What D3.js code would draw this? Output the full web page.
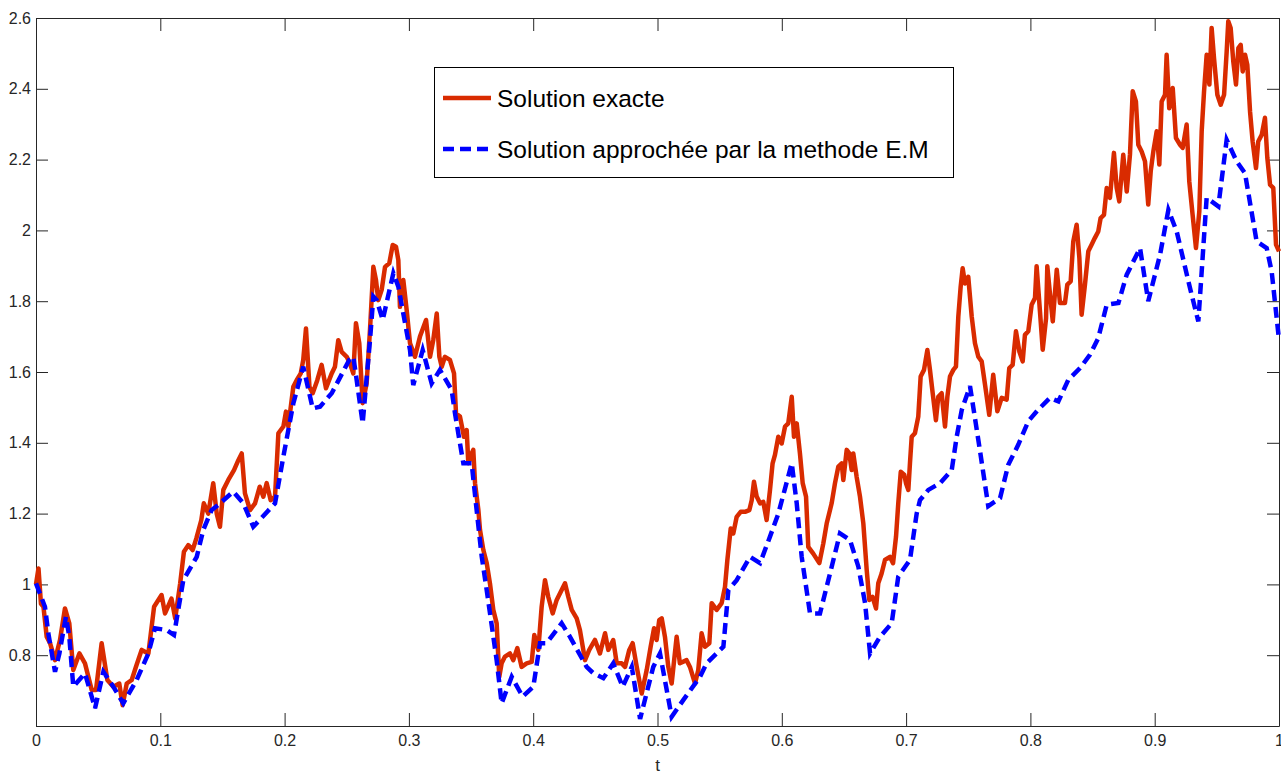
<!DOCTYPE html>
<html>
<head>
<meta charset="utf-8">
<script src="https://cdn.jsdelivr.net/npm/d3@7"></script>
<style>
  body { margin: 0; background: #fff; }
  svg { display: block; }
  .tick text { font-family: "Liberation Sans", Arial, sans-serif; font-size: 16px; fill: #262626; }
  .legend text { font-family: "Liberation Sans", Arial, sans-serif; font-size: 24.5px; fill: #000; }
</style>
</head>
<body>
<div id="chart"></div>
<script>
// exact solution (t, X)
var exactSolution = [
  [0, 1.0], [0.002, 1.045], [0.004, 0.945], [0.006, 0.937], [0.0086, 0.852], [0.0113, 0.834],
  [0.0153, 0.786], [0.0193, 0.843], [0.0233, 0.932], [0.0268, 0.89], [0.030, 0.758], [0.0349, 0.805],
  [0.0394, 0.777], [0.0448, 0.702], [0.0483, 0.702], [0.0528, 0.834], [0.0574, 0.73], [0.0622, 0.711],
  [0.067, 0.72], [0.0697, 0.659], [0.073, 0.72], [0.077, 0.73], [0.0805, 0.768], [0.085, 0.815],
  [0.0904, 0.805], [0.095, 0.937], [0.101, 0.97], [0.1038, 0.918], [0.109, 0.96], [0.112, 0.904],
  [0.116, 1.003], [0.119, 1.092], [0.1225, 1.111], [0.126, 1.097], [0.129, 1.13], [0.133, 1.182],
  [0.135, 1.229], [0.1386, 1.20], [0.1426, 1.286], [0.1454, 1.20], [0.148, 1.163], [0.1507, 1.267],
  [0.1547, 1.295], [0.1593, 1.323], [0.1628, 1.351], [0.1655, 1.37], [0.1681, 1.257], [0.1722, 1.21],
  [0.1762, 1.229], [0.180, 1.276], [0.1829, 1.248], [0.1856, 1.286], [0.1888, 1.238], [0.1923, 1.248],
  [0.195, 1.427], [0.199, 1.446], [0.2011, 1.488], [0.203, 1.446], [0.207, 1.558], [0.2097, 1.577],
  [0.213, 1.596], [0.215, 1.634], [0.2172, 1.723], [0.22, 1.558], [0.2226, 1.54], [0.2263, 1.577],
  [0.2298, 1.62], [0.2333, 1.554], [0.2379, 1.596], [0.2405, 1.615], [0.2432, 1.69], [0.2459, 1.657],
  [0.25, 1.643], [0.2526, 1.624], [0.2553, 1.596], [0.2574, 1.738], [0.2601, 1.681], [0.2628, 1.512],
  [0.266, 1.568], [0.2687, 1.719], [0.2714, 1.897], [0.2735, 1.86], [0.2754, 1.803], [0.2781, 1.832],
  [0.2808, 1.897], [0.2842, 1.907], [0.287, 1.959], [0.2896, 1.954], [0.2915, 1.916], [0.2928, 1.784],
  [0.2955, 1.86], [0.2982, 1.775], [0.3009, 1.681], [0.3049, 1.643], [0.3089, 1.70], [0.3138, 1.747],
  [0.317, 1.643], [0.3196, 1.69], [0.3224, 1.765], [0.3245, 1.643], [0.3264, 1.615], [0.329, 1.643],
  [0.333, 1.634], [0.3363, 1.596], [0.3379, 1.483], [0.3411, 1.474], [0.3443, 1.417], [0.3465, 1.436],
  [0.3478, 1.342], [0.3505, 1.37], [0.3518, 1.38], [0.3532, 1.286], [0.3559, 1.21], [0.3572, 1.154],
  [0.3599, 1.097], [0.3626, 1.06], [0.3652, 1.003], [0.3679, 0.928], [0.3706, 0.89], [0.3727, 0.739],
  [0.3746, 0.777], [0.3773, 0.796], [0.3813, 0.805], [0.384, 0.786], [0.3872, 0.82], [0.3907, 0.767],
  [0.3947, 0.777], [0.3988, 0.781], [0.4009, 0.857], [0.4041, 0.815], [0.4068, 0.937], [0.4095, 1.012],
  [0.4121, 0.965], [0.4157, 0.918], [0.4189, 0.956], [0.4229, 0.984], [0.4256, 1.003], [0.4282, 0.965],
  [0.431, 0.928], [0.435, 0.904], [0.4376, 0.871], [0.4417, 0.786], [0.4451, 0.815], [0.4497, 0.843],
  [0.4537, 0.805], [0.4578, 0.862], [0.4604, 0.815], [0.4644, 0.843], [0.4672, 0.777], [0.4712, 0.777],
  [0.4739, 0.767], [0.4773, 0.815], [0.48, 0.834], [0.4833, 0.767], [0.4873, 0.692], [0.4913, 0.758],
  [0.4945, 0.824], [0.4972, 0.876], [0.4993, 0.843], [0.5014, 0.899], [0.5034, 0.904], [0.506, 0.852],
  [0.5087, 0.767], [0.5114, 0.72], [0.5154, 0.852], [0.518, 0.777], [0.5234, 0.786], [0.5261, 0.767],
  [0.5302, 0.72], [0.5328, 0.758], [0.5355, 0.862], [0.5382, 0.824], [0.5417, 0.834], [0.5436, 0.947],
  [0.5476, 0.928], [0.5516, 0.947], [0.5543, 0.993], [0.5562, 1.069], [0.5589, 1.158], [0.561, 1.144],
  [0.5637, 1.191], [0.5669, 1.205], [0.5704, 1.205], [0.5739, 1.21], [0.5758, 1.238], [0.5776, 1.29],
  [0.5798, 1.248], [0.5825, 1.229], [0.5851, 1.233], [0.5878, 1.182], [0.5905, 1.267], [0.5926, 1.342],
  [0.5945, 1.366], [0.5972, 1.417], [0.5999, 1.398], [0.6026, 1.446], [0.6052, 1.455], [0.608, 1.53],
  [0.6098, 1.417], [0.612, 1.455], [0.6146, 1.37], [0.6168, 1.286], [0.6195, 1.248], [0.6213, 1.106],
  [0.6253, 1.087], [0.6302, 1.06], [0.6334, 1.116], [0.6361, 1.172], [0.6401, 1.229], [0.6428, 1.286],
  [0.6455, 1.333], [0.6482, 1.342], [0.6495, 1.295], [0.6522, 1.38], [0.6543, 1.37], [0.6562, 1.323],
  [0.6575, 1.37], [0.6602, 1.304], [0.6629, 1.248], [0.6656, 1.172], [0.6683, 1.041], [0.6704, 0.956],
  [0.673, 0.965], [0.6758, 0.932], [0.6776, 1.003], [0.6803, 1.031], [0.683, 1.069], [0.687, 1.078],
  [0.6895, 1.06], [0.6919, 1.135], [0.6937, 1.229], [0.6957, 1.318], [0.6985, 1.31], [0.6999, 1.286],
  [0.7018, 1.267], [0.7031, 1.342], [0.7045, 1.417], [0.7071, 1.427], [0.7098, 1.474], [0.7117, 1.587],
  [0.7144, 1.606], [0.7171, 1.662], [0.7192, 1.606], [0.7214, 1.54], [0.724, 1.464], [0.7259, 1.53],
  [0.7286, 1.54], [0.7313, 1.446], [0.7332, 1.53], [0.7353, 1.587], [0.738, 1.606], [0.7401, 1.615],
  [0.742, 1.756], [0.7439, 1.841], [0.7455, 1.893], [0.7474, 1.85], [0.75, 1.869], [0.7528, 1.756],
  [0.7554, 1.681], [0.7581, 1.643], [0.7608, 1.63], [0.7635, 1.564], [0.7669, 1.479], [0.7701, 1.592],
  [0.7734, 1.489], [0.7769, 1.527], [0.7809, 1.522], [0.783, 1.611], [0.7857, 1.62], [0.7884, 1.715],
  [0.7911, 1.658], [0.7938, 1.63], [0.7956, 1.705], [0.7983, 1.715], [0.801, 1.79], [0.8037, 1.809],
  [0.805, 1.899], [0.8077, 1.771], [0.8099, 1.663], [0.8126, 1.752], [0.8136, 1.899], [0.8158, 1.818],
  [0.818, 1.743], [0.8212, 1.889], [0.8238, 1.795], [0.8278, 1.795], [0.8297, 1.847], [0.8324, 1.856],
  [0.8345, 1.969], [0.8372, 2.016], [0.8394, 1.922], [0.8412, 1.762], [0.8439, 1.847], [0.8466, 1.941],
  [0.8493, 1.96], [0.8519, 1.979], [0.8546, 1.997], [0.8565, 2.035], [0.8592, 2.044], [0.8614, 2.12],
  [0.864, 2.092], [0.8672, 2.219], [0.8694, 2.12], [0.8715, 2.082], [0.8747, 2.214], [0.8775, 2.11],
  [0.8801, 2.214], [0.8823, 2.393], [0.8849, 2.364], [0.8868, 2.242], [0.8895, 2.223], [0.8922, 2.195],
  [0.8948, 2.073], [0.8968, 2.167], [0.8989, 2.223], [0.9016, 2.28], [0.9037, 2.186], [0.9056, 2.364],
  [0.9083, 2.383], [0.9096, 2.496], [0.9117, 2.345], [0.9145, 2.402], [0.9171, 2.261], [0.9204, 2.242],
  [0.9225, 2.233], [0.9257, 2.299], [0.9278, 2.139], [0.9305, 2.044], [0.9332, 1.95], [0.9359, 2.054],
  [0.9378, 2.28], [0.9397, 2.393], [0.9418, 2.496], [0.944, 2.412], [0.9458, 2.572], [0.9477, 2.487],
  [0.9504, 2.383], [0.9531, 2.355], [0.9558, 2.383], [0.9579, 2.505], [0.9592, 2.591], [0.9611, 2.572],
  [0.9632, 2.478], [0.9654, 2.412], [0.9673, 2.515], [0.9692, 2.524], [0.9708, 2.449], [0.9727, 2.496],
  [0.9745, 2.468], [0.9767, 2.336], [0.9788, 2.251], [0.9815, 2.176], [0.9833, 2.251], [0.9861, 2.27],
  [0.9887, 2.318], [0.9906, 2.205], [0.9928, 2.129], [0.9954, 2.12], [0.9976, 1.96], [1.0, 1.941]
]

// Euler-Maruyama approximation (coarser grid)
var emSolution = [
  [0, 1.003], [0.0072, 0.937], [0.0099, 0.862], [0.0153, 0.753], [0.0188, 0.805], [0.0241, 0.909],
  [0.0268, 0.852], [0.030, 0.711], [0.0394, 0.749], [0.0475, 0.65], [0.0542, 0.753], [0.0622, 0.711],
  [0.0702, 0.664], [0.081, 0.73], [0.0904, 0.805], [0.0957, 0.876], [0.1051, 0.871], [0.111, 0.857],
  [0.1185, 1.012], [0.1293, 1.078], [0.1346, 1.154], [0.1413, 1.21], [0.148, 1.229], [0.1587, 1.262],
  [0.1668, 1.229], [0.1748, 1.163], [0.1923, 1.229], [0.199, 1.361], [0.207, 1.511], [0.215, 1.615],
  [0.2226, 1.497], [0.2285, 1.502], [0.2379, 1.54], [0.252, 1.634], [0.2553, 1.643], [0.258, 1.577],
  [0.2628, 1.455], [0.2687, 1.69], [0.2714, 1.813], [0.2741, 1.803], [0.2789, 1.747], [0.2875, 1.879],
  [0.2915, 1.841], [0.3009, 1.662], [0.3035, 1.563], [0.3111, 1.662], [0.3183, 1.568], [0.325, 1.606],
  [0.3344, 1.549], [0.3371, 1.483], [0.3411, 1.398], [0.3438, 1.342], [0.3505, 1.342], [0.3545, 1.21],
  [0.3586, 1.078], [0.3626, 0.984], [0.3706, 0.786], [0.3746, 0.664], [0.3827, 0.739], [0.3915, 0.683],
  [0.4001, 0.711], [0.4055, 0.834], [0.4108, 0.834], [0.4229, 0.89], [0.4296, 0.852], [0.443, 0.767],
  [0.4484, 0.749], [0.4564, 0.735], [0.4644, 0.777], [0.472, 0.711], [0.4793, 0.767], [0.486, 0.62],
  [0.4966, 0.767], [0.502, 0.805], [0.5114, 0.626], [0.5207, 0.673], [0.5342, 0.739], [0.5395, 0.777],
  [0.553, 0.824], [0.557, 0.984], [0.5637, 1.012], [0.5744, 1.078], [0.5825, 1.06], [0.5905, 1.135],
  [0.5972, 1.2], [0.608, 1.342], [0.612, 1.229], [0.616, 1.078], [0.6227, 0.918], [0.6307, 0.918],
  [0.6388, 1.031], [0.6468, 1.144], [0.6549, 1.125], [0.6616, 1.05], [0.667, 0.947], [0.671, 0.805],
  [0.679, 0.852], [0.6884, 0.89], [0.6937, 1.022], [0.7031, 1.069], [0.7085, 1.2], [0.7112, 1.238],
  [0.7179, 1.267], [0.7273, 1.286], [0.7367, 1.323], [0.7407, 1.417], [0.7448, 1.493], [0.7514, 1.56],
  [0.7554, 1.47], [0.7595, 1.376], [0.7661, 1.221], [0.7756, 1.244], [0.7822, 1.338], [0.7903, 1.395],
  [0.7983, 1.461], [0.8064, 1.494], [0.8158, 1.527], [0.8225, 1.517], [0.8305, 1.578], [0.8399, 1.611],
  [0.848, 1.649], [0.8546, 1.696], [0.8614, 1.79], [0.8708, 1.795], [0.8775, 1.875], [0.8882, 1.95],
  [0.8948, 1.8], [0.9043, 1.931], [0.911, 2.058], [0.9177, 1.997], [0.9284, 1.837], [0.9351, 1.743],
  [0.9418, 2.092], [0.9512, 2.068], [0.9579, 2.256], [0.9659, 2.195], [0.9726, 2.162], [0.982, 1.969],
  [0.9901, 1.95], [0.9941, 1.884], [1.0, 1.691]
]

var xTicks = [0, 0.1, 0.2, 0.3, 0.4, 0.5, 0.6, 0.7, 0.8, 0.9, 1]
var yTicks = [0.6, 0.8, 1, 1.2, 1.4, 1.6, 1.8, 2, 2.2, 2.4, 2.6]
var legendLabels = ['Solution exacte', 'Solution approch\u00e9e par la methode E.M']
var xLabel = 't'

var svgWidth = 1281,
    svgHeight = 774
var margin = { top: 18, right: 2, bottom: 48, left: 36 }
var width = svgWidth - margin.left - margin.right,
    height = svgHeight - margin.top - margin.bottom

var redColor = '#d92b00',
    blueColor = '#0000ff'

var svg = d3.select('#chart').append('svg')
    .attr('width', svgWidth)
    .attr('height', svgHeight)
    .append('g')
    .attr('transform', 'translate(' + margin.left + ',' + margin.top + ')')

var xScale = d3.scaleLinear().domain([0, 1]).range([0, width])
var yScale = d3.scaleLinear().domain([0.6, 2.6]).range([height, 0])

// ticks point inward like matlab, box on all four sides
var tickLen = 13

svg.append('g')
    .attr('transform', 'translate(0,' + height + ')')
    .call(d3.axisBottom(xScale).tickValues(xTicks).tickSize(-tickLen).tickSizeOuter(0)
        .tickPadding(9).tickFormat(d3.format('')))

svg.append('g')
    .call(d3.axisTop(xScale).tickValues(xTicks).tickSize(-tickLen).tickSizeOuter(0).tickFormat(''))

svg.append('g')
    .call(d3.axisLeft(yScale).tickValues(yTicks).tickSize(-12).tickSizeOuter(0)
        .tickPadding(5).tickFormat(d => d === 0.6 ? '' : d3.format('')(d)))

svg.append('g')
    .attr('transform', 'translate(' + width + ',0)')
    .call(d3.axisRight(yScale).tickValues(yTicks).tickSize(-12).tickSizeOuter(0).tickFormat(''))

svg.selectAll('.domain, .tick line')
    .attr('stroke', '#262626')
    .attr('stroke-width', 1)

svg.append('text')
    .attr('x', width / 2)
    .attr('y', height + 45)
    .attr('text-anchor', 'middle')
    .style('font-family', '"Liberation Sans", Arial, sans-serif')
    .style('font-size', '17px')
    .attr('fill', '#262626')
    .text(xLabel)

var line = d3.line()
    .x(d => xScale(d[0]))
    .y(d => yScale(d[1]))

svg.append('path')
    .datum(exactSolution)
    .attr('fill', 'none')
    .attr('stroke', redColor)
    .attr('stroke-width', 4.5)
    .attr('stroke-linejoin', 'round')
    .attr('d', line)

svg.append('path')
    .datum(emSolution)
    .attr('fill', 'none')
    .attr('stroke', blueColor)
    .attr('stroke-width', 4.5)
    .attr('stroke-dasharray', '11,6')
    .attr('d', line)

// legend box
var legend = svg.append('g')
    .attr('class', 'legend')
    .attr('transform', 'translate(' + (434 - margin.left) + ',' + (67 - margin.top) + ')')

legend.append('rect')
    .attr('x', 0.5).attr('y', 0.5)
    .attr('width', 519).attr('height', 110)
    .attr('fill', '#fff')
    .attr('stroke', '#000')
    .attr('stroke-width', 1)

var rows = legend.selectAll('g.row')
    .data(legendLabels)
    .enter().append('g')
    .attr('class', 'row')
    .attr('transform', (d, i) => 'translate(0,' + (31 + i * 51) + ')')

rows.append('line')
    .attr('x1', 9).attr('x2', 57)
    .attr('y1', 0).attr('y2', 0)
    .attr('stroke', (d, i) => i === 0 ? redColor : blueColor)
    .attr('stroke-width', 4.5)
    .attr('stroke-dasharray', (d, i) => i === 0 ? null : '11,6')

rows.append('text')
    .attr('x', 63)
    .attr('y', 9)
    .text(d => d)
</script>
</body>
</html>
